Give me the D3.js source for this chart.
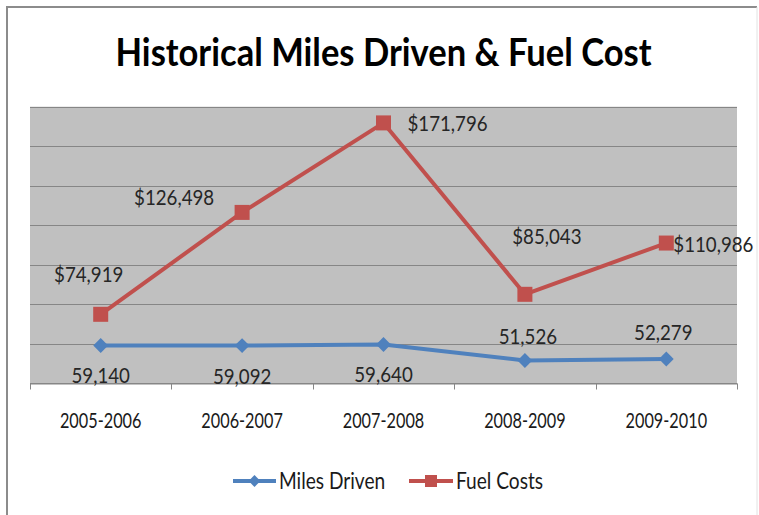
<!DOCTYPE html>
<html>
<head>
<meta charset="utf-8">
<script src="https://cdn.jsdelivr.net/npm/d3@7"></script>
<style>
  html, body { margin: 0; padding: 0; background: #fff; }
  svg { display: block; }
  text { font-family: Lato, "Open Sans", "Liberation Sans", sans-serif; }
</style>
</head>
<body>
<svg id="chart" width="759" height="515"></svg>
<script>
const title = "Historical Miles Driven & Fuel Cost";
const categories = ["2005-2006", "2006-2007", "2007-2008", "2008-2009", "2009-2010"];
const milesDriven = [59140, 59092, 59640, 51526, 52279];
const fuelCosts = [74919, 126498, 171796, 85043, 110986];
const seriesNames = ["Miles Driven", "Fuel Costs"];
const yTickValues = [40000, 60000, 80000, 100000, 120000, 140000, 160000, 180000];

const svg = d3.select("#chart");
const W = 759, H = 515;
const plot = { left: 30, right: 737, top: 106.7, bottom: 383.3 };
const colors = { miles: "#4f81bd", fuel: "#c0504d" };
const SX = 0.85;     // horizontal text condensing
const SX_CAT = 0.74;

// outer border
svg.append("line").attr("x1", 7).attr("x2", 7).attr("y1", 6).attr("y2", H)
  .attr("stroke", "#8c8c8c").attr("stroke-width", 2);
svg.append("line").attr("x1", 6).attr("x2", 757).attr("y1", 7).attr("y2", 7)
  .attr("stroke", "#8c8c8c").attr("stroke-width", 2);
svg.append("line").attr("x1", 757).attr("x2", 757).attr("y1", 7).attr("y2", H)
  .attr("stroke", "#e2e2e2").attr("stroke-width", 1);

const x = d3.scaleBand().domain(categories).range([plot.left, plot.right]).padding(0);
const y = d3.scaleLinear().domain([40000, 180000]).range([plot.bottom, plot.top]);
const cx = c => x(c) + x.bandwidth() / 2;

// plot background
svg.append("rect")
  .attr("x", plot.left).attr("y", plot.top)
  .attr("width", plot.right - plot.left).attr("height", plot.bottom - plot.top)
  .attr("fill", "#c0c0c0");

// gridlines
svg.append("g").selectAll("line").data(yTickValues).join("line")
  .attr("x1", plot.left).attr("x2", plot.right)
  .attr("y1", d => Math.round(y(d)) + 0.5).attr("y2", d => Math.round(y(d)) + 0.5)
  .attr("stroke", "#868686").attr("stroke-width", 1);

// x axis
const xAxis = d3.axisBottom(x).tickSize(0).tickFormat("");
const gx = svg.append("g").attr("transform", `translate(0,${Math.round(plot.bottom) + 0.5})`).call(xAxis);
gx.select(".domain").attr("stroke", "#868686");
const bounds = categories.map(c => x(c)).concat([plot.right]);
gx.selectAll(".bt").data(bounds).join("line").attr("class", "bt")
  .attr("x1", d => Math.round(d) + 0.5).attr("x2", d => Math.round(d) + 0.5)
  .attr("y1", 0).attr("y2", 6).attr("stroke", "#868686");

svg.append("g").selectAll("text").data(categories).join("text")
  .attr("transform", d => `translate(${cx(d)},428) scale(${SX_CAT},1)`)
  .attr("text-anchor", "middle").attr("font-size", 22).attr("fill", "#1a1a1a")
  .text(d => d);

// lines
const line = d3.line().x((d, i) => cx(categories[i])).y(d => y(d));
svg.append("path").datum(milesDriven).attr("d", line)
  .attr("fill", "none").attr("stroke", colors.miles).attr("stroke-width", 4).attr("stroke-linejoin", "round");
svg.append("path").datum(fuelCosts).attr("d", line)
  .attr("fill", "none").attr("stroke", colors.fuel).attr("stroke-width", 4).attr("stroke-linejoin", "round");

// markers
svg.append("g").selectAll("path").data(milesDriven).join("path")
  .attr("transform", (d, i) => `translate(${cx(categories[i])},${y(d)}) rotate(45)`)
  .attr("d", d3.symbol().type(d3.symbolSquare).size(110)())
  .attr("fill", colors.miles);
svg.append("g").selectAll("rect").data(fuelCosts).join("rect")
  .attr("x", (d, i) => cx(categories[i]) - 7.5).attr("y", d => y(d) - 7.5)
  .attr("width", 15).attr("height", 15).attr("fill", colors.fuel);

// data labels (layout offsets)
const fmt = d3.format(",");
const fuelLab = [
  { dx: -12, dy: -32, a: "middle" },
  { dx: -68, dy: -7, a: "middle" },
  { dx: 24, dy: 8, a: "start" },
  { dx: 22, dy: -50, a: "middle" },
  { dx: 7, dy: 9, a: "start" }
];
const milesLab = [
  { dx: 0, dy: 38 }, { dx: 0, dy: 38 }, { dx: 0, dy: 38 },
  { dx: 3, dy: -17 }, { dx: -3, dy: -19 }
];
svg.append("g").selectAll("text").data(fuelCosts).join("text")
  .attr("transform", (d, i) => `translate(${cx(categories[i]) + fuelLab[i].dx},${y(d) + fuelLab[i].dy}) scale(${SX},1)`)
  .attr("text-anchor", (d, i) => fuelLab[i].a)
  .attr("font-size", 22).attr("fill", "#262626")
  .text(d => "$" + fmt(d));
svg.append("g").selectAll("text").data(milesDriven).join("text")
  .attr("transform", (d, i) => `translate(${cx(categories[i]) + milesLab[i].dx},${y(d) + milesLab[i].dy}) scale(${SX},1)`)
  .attr("text-anchor", "middle")
  .attr("font-size", 22).attr("fill", "#262626")
  .text(d => fmt(d));

// title
svg.append("text").attr("x", 383.5).attr("y", 66)
  .attr("text-anchor", "middle").attr("font-size", 39).attr("font-weight", "bold")
  .attr("fill", "#000")
  .attr("textLength", 536).attr("lengthAdjust", "spacingAndGlyphs")
  .text(title);

// legend
const legend = [
  { name: seriesNames[0], color: colors.miles, x1: 233, x2: 276, tx: 279, shape: "diamond" },
  { name: seriesNames[1], color: colors.fuel, x1: 409, x2: 453, tx: 456, shape: "square" }
];
const lg = svg.append("g");
legend.forEach(l => {
  lg.append("line").attr("x1", l.x1).attr("x2", l.x2).attr("y1", 481).attr("y2", 481)
    .attr("stroke", l.color).attr("stroke-width", 4);
  const mx = (l.x1 + l.x2) / 2;
  if (l.shape === "diamond") {
    lg.append("path").attr("transform", `translate(${mx},481) rotate(45)`)
      .attr("d", d3.symbol().type(d3.symbolSquare).size(70)()).attr("fill", l.color);
  } else {
    lg.append("rect").attr("x", mx - 6).attr("y", 475).attr("width", 12).attr("height", 12).attr("fill", l.color);
  }
  lg.append("text").attr("transform", `translate(${l.tx},489) scale(${SX},1)`)
    .attr("font-size", 22.5).attr("fill", "#1a1a1a").text(l.name);
});
</script>
</body>
</html>
